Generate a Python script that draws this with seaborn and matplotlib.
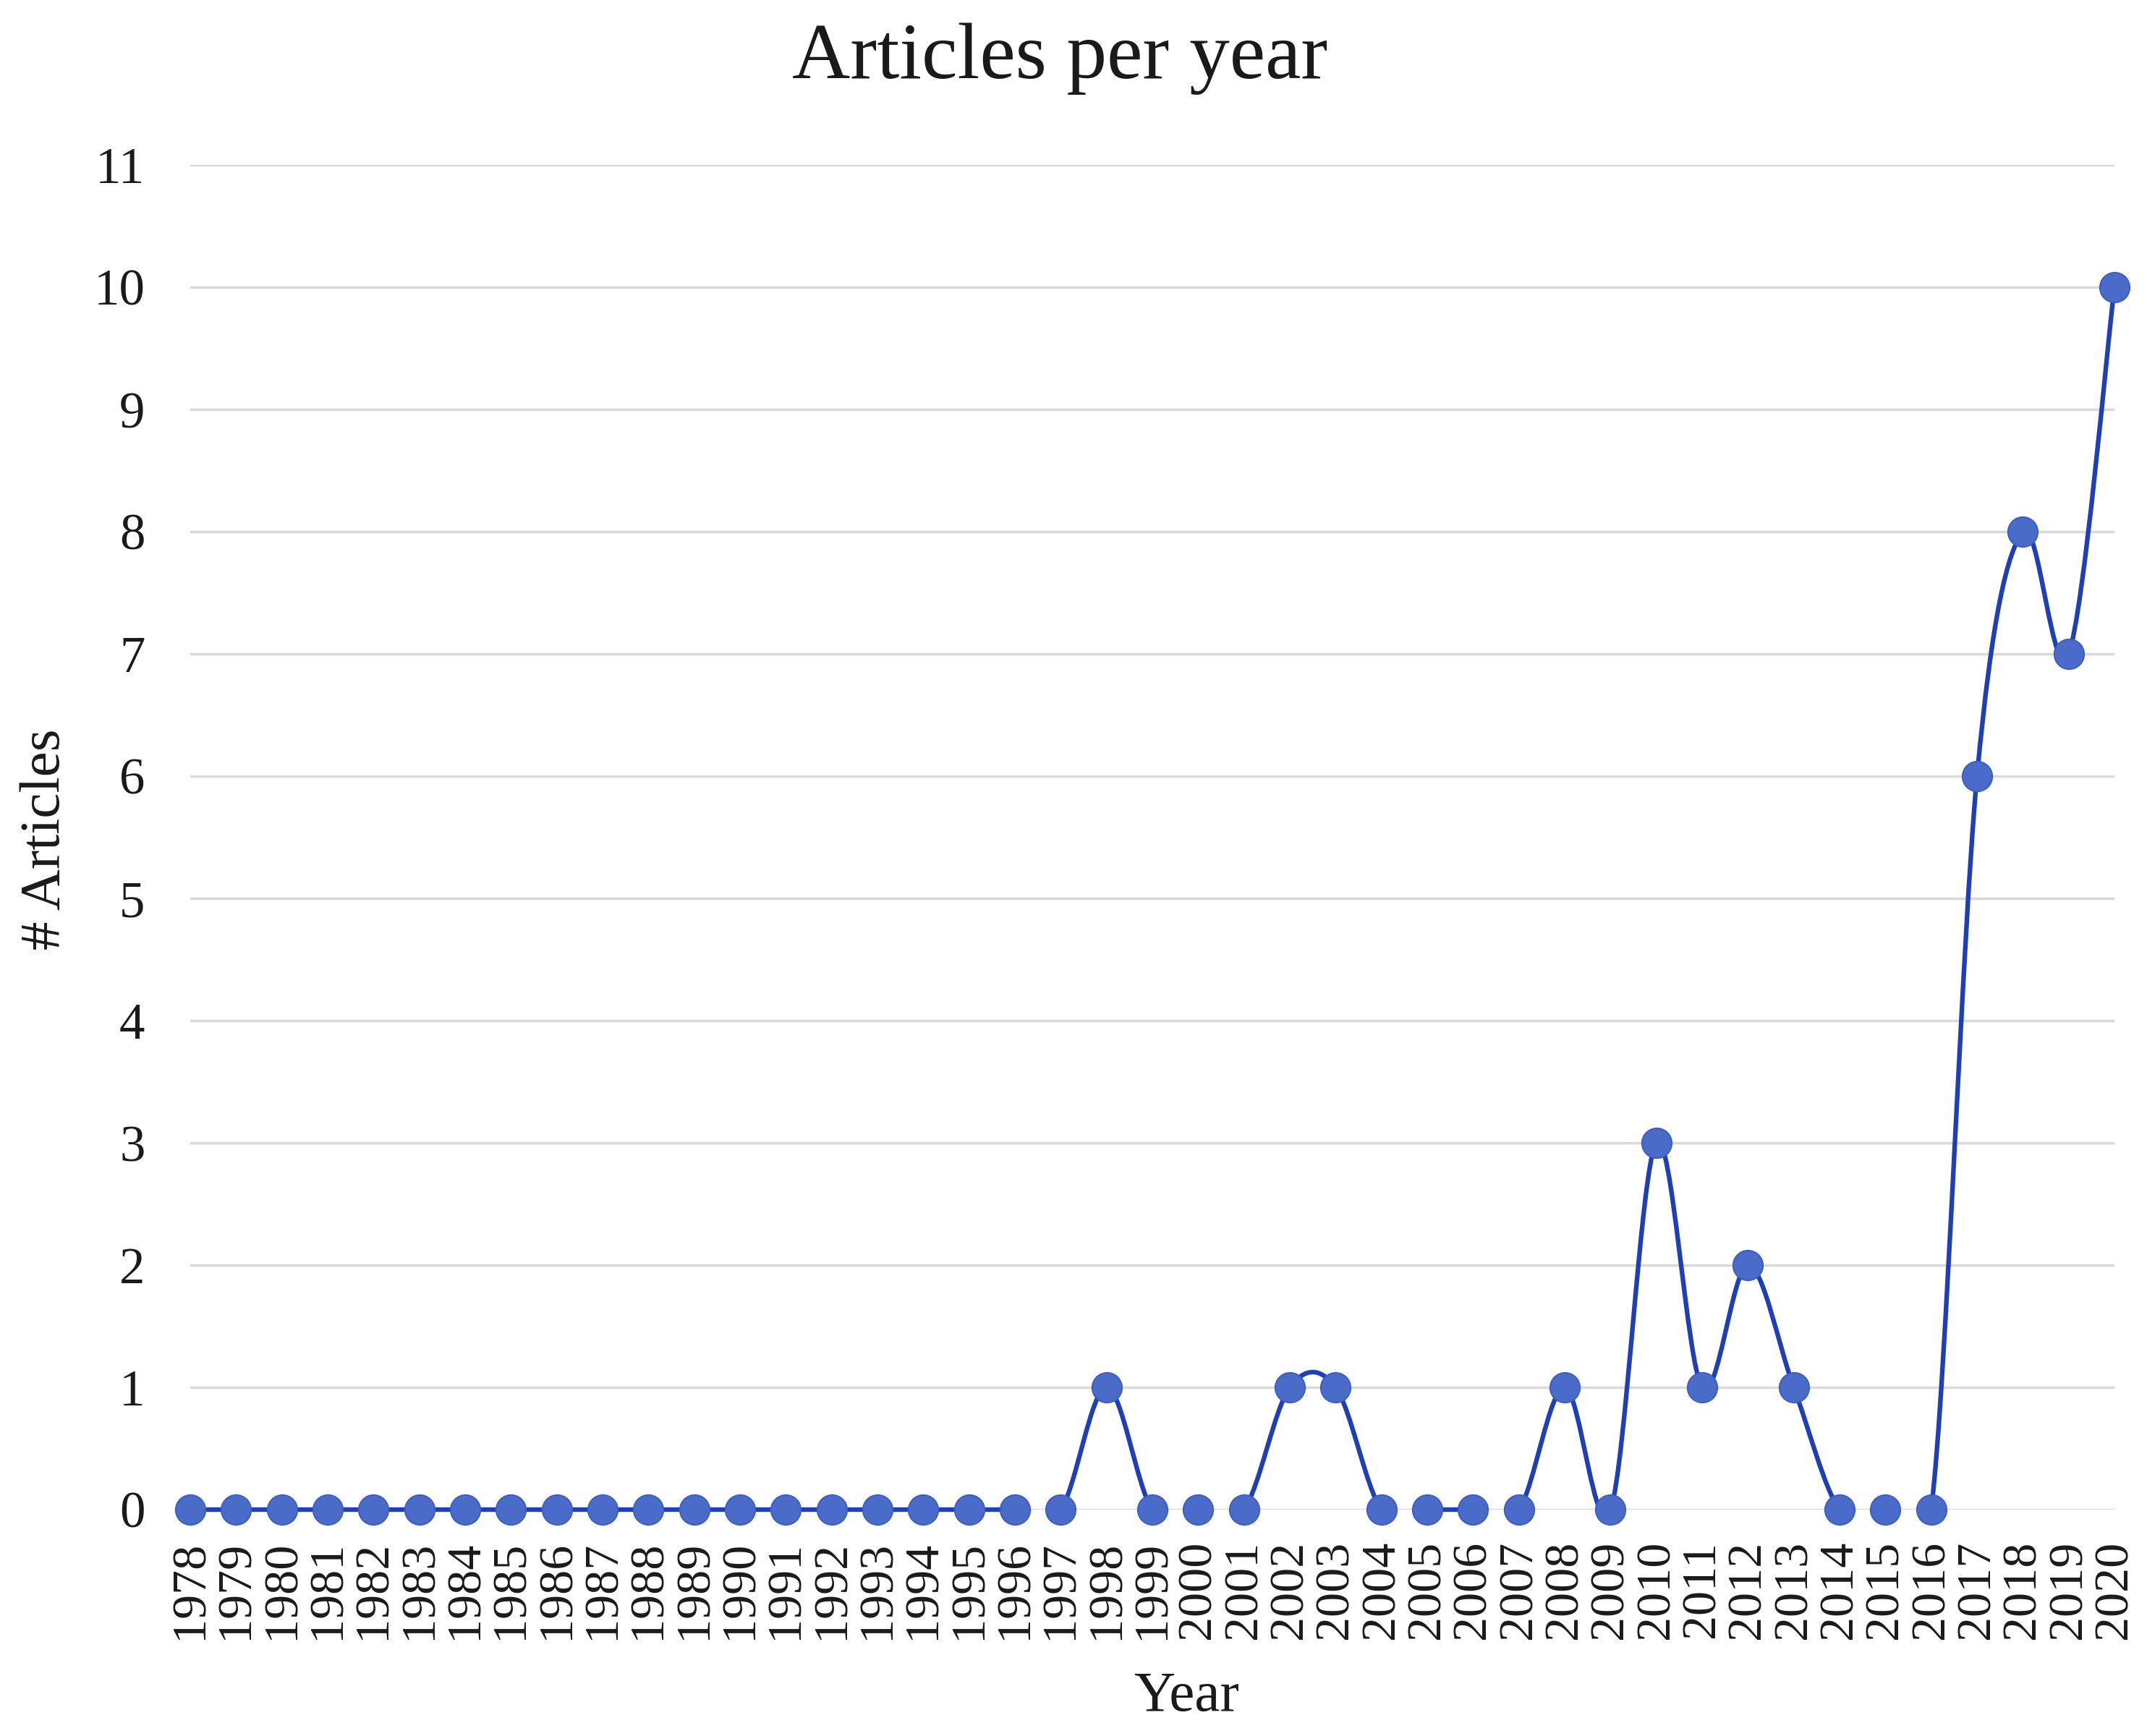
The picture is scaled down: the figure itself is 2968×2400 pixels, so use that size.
import numpy as np
import pandas as pd
import seaborn as sns
import matplotlib.pyplot as plt
from matplotlib.path import Path
from matplotlib.patches import PathPatch

# data
years = list(range(1978, 2021))
articles = [0] * 19 + [0, 1, 0, 0, 0, 1, 1, 0, 0, 0, 0, 1, 0, 3, 1, 2, 1, 0, 0, 0, 6, 8, 7, 10]
# years after which the line is not drawn to the next point
breaks_after = [1996, 1999, 2000, 2004, 2006, 2014, 2015]
y_ticks = list(range(0, 12))

df = pd.DataFrame({"Year": years, "Articles": articles})

sns.set_theme(style="white")
plt.rcParams["font.family"] = ["Liberation Serif", "DejaVu Serif"]

fig, ax = plt.subplots(figsize=(29.68, 24), dpi=100)
fig.subplots_adjust(left=263 / 2968, right=2923 / 2968, bottom=1 - 2087 / 2400, top=1 - 228 / 2400)

line_col = "#1F40B4"
mark_col = "#4A6CC8"

# smoothed line, built as cubic bezier pieces (excel style smoothing)
P = df[["Year", "Articles"]].to_numpy(dtype=float)
n = len(P)
verts, codes = [], []
pen_down = False
for i in range(n - 1):
    if years[i] in breaks_after:
        pen_down = False
        continue
    a = P[i - 1] if i > 0 else P[i]
    d = P[i + 2] if i + 2 < n else P[i + 1]
    c1 = P[i] + (P[i + 1] - a) / 6
    c2 = P[i + 1] - (d - P[i]) / 6
    if not pen_down:
        verts.append(P[i]); codes.append(Path.MOVETO)
        pen_down = True
    verts += [c1, c2, P[i + 1]]
    codes += [Path.CURVE4] * 3
patch = PathPatch(Path(verts, codes), facecolor="none", edgecolor=line_col,
                  lw=4.6, transform=ax.transData, clip_on=False, zorder=3,
                  capstyle="round", joinstyle="round")
ax.add_patch(patch)

sns.scatterplot(data=df, x="Year", y="Articles", ax=ax, s=880, color=mark_col,
                edgecolor="#3D5FC2", linewidth=1.5, clip_on=False, zorder=4, legend=False)

ax.set_xlim(1978, 2020)
ax.set_ylim(0, 11)
ax.set_yticks(y_ticks)
ax.set_xticks(years)
ax.set_xticklabels([str(y) for y in years], rotation=90)
ax.grid(axis="y", color="#D9D9D9", lw=2.5)
ax.grid(axis="x", visible=False)
for s in ax.spines.values():
    s.set_visible(False)
ax.tick_params(axis="y", length=0, pad=45, labelsize=51, labelcolor="#1A1A1A")
ax.tick_params(axis="x", length=0, pad=31, labelsize=49, labelcolor="#1A1A1A")
ax.set_xlabel("")
ax.set_ylabel("")

fig.text(0.4936, 1 - 108 / 2400, "Articles per year", ha="center", va="baseline",
         fontsize=80, color="#1A1A1A")
fig.text(63 / 2968, 1 - 1160 / 2400, "# Articles", rotation=90, ha="center", va="center",
         fontsize=57, color="#1A1A1A")
fig.text(1640 / 2968, 1 - 2365 / 2400, "Year", ha="center", va="baseline",
         fontsize=57, color="#1A1A1A")

fig.savefig("out.png", dpi=100, facecolor="white")
